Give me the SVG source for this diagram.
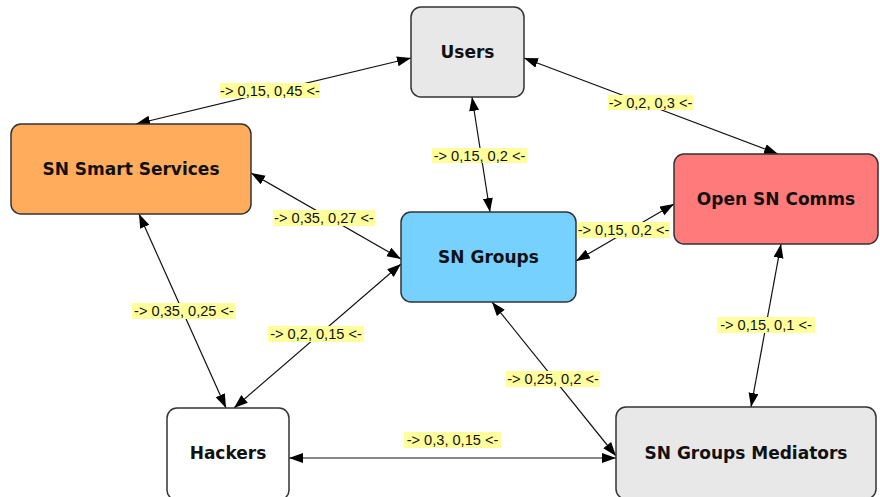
<svg xmlns="http://www.w3.org/2000/svg" width="880" height="497" viewBox="0 0 880 497">
<style>
.node rect{stroke:#333;stroke-width:1.5}
.node text{font-family:"DejaVu Sans",sans-serif;font-weight:bold;font-size:17px;fill:#111;text-anchor:middle}
.edge line{stroke:#111;stroke-width:1.2;marker-start:url(#ah);marker-end:url(#ah)}
.lbl rect{fill:#ffff9c}
.lbl text{font-family:"Liberation Sans",Arial,sans-serif;font-size:14.6px;fill:#111;text-anchor:middle}
</style>
<defs>
<marker id="ah" markerUnits="userSpaceOnUse" markerWidth="15" markerHeight="11" refX="14" refY="5" orient="auto-start-reverse">
<path d="M0,0 L14,5 L0,10 z" fill="#000"/>
</marker>
</defs>
<rect width="880" height="497" fill="#fff"/>
<g id="connectors">
<g class="edge">
<line x1="411" y1="58" x2="136" y2="124"/>
<line x1="524" y1="58" x2="778" y2="154"/>
<line x1="472" y1="97" x2="490" y2="212"/>
<line x1="251" y1="173" x2="401" y2="259"/>
<line x1="576" y1="261" x2="674" y2="204"/>
<line x1="139" y1="214" x2="226" y2="408"/>
<line x1="401" y1="264" x2="234" y2="408"/>
<line x1="492" y1="302" x2="616" y2="456"/>
<line x1="781" y1="244" x2="751" y2="407"/>
<line x1="289" y1="458" x2="616" y2="458"/>
</g>
<g class="lbl">
<rect x="220" y="83" width="100" height="15"/><text x="270" y="95.5">-&gt; 0,15, 0,45 &lt;-</text>
<rect x="608" y="95" width="85" height="15"/><text x="650.5" y="107.5">-&gt; 0,2, 0,3 &lt;-</text>
<rect x="432" y="148" width="95" height="15"/><text x="479.5" y="160.5">-&gt; 0,15, 0,2 &lt;-</text>
<rect x="273" y="210" width="102" height="16"/><text x="324" y="223">-&gt; 0,35, 0,27 &lt;-</text>
<rect x="577" y="222" width="93" height="16"/><text x="623.5" y="235">-&gt; 0,15, 0,2 &lt;-</text>
<rect x="132" y="303" width="104" height="16"/><text x="184" y="316">-&gt; 0,35, 0,25 &lt;-</text>
<rect x="268" y="326" width="96" height="16"/><text x="316" y="339">-&gt; 0,2, 0,15 &lt;-</text>
<rect x="506" y="371" width="94" height="16"/><text x="553" y="384">-&gt; 0,25, 0,2 &lt;-</text>
<rect x="717" y="317" width="98" height="16"/><text x="766" y="330">-&gt; 0,15, 0,1 &lt;-</text>
<rect x="404" y="432" width="97" height="16"/><text x="452.5" y="445">-&gt; 0,3, 0,15 &lt;-</text>
</g>
</g>
<g id="users" class="node"><rect x="411" y="7" width="113" height="90" rx="10" fill="#e8e8e8"/><text x="467.5" y="58">Users</text></g>
<g id="sn-smart-services" class="node"><rect x="11" y="124" width="240" height="90" rx="10" fill="#ffad5c"/><text x="131" y="175">SN Smart Services</text></g>
<g id="sn-groups" class="node"><rect x="401" y="212" width="175" height="90" rx="10" fill="#76d1ff"/><text x="488.5" y="263">SN Groups</text></g>
<g id="open-sn-comms" class="node"><rect x="674" y="154" width="204" height="90" rx="10" fill="#ff7b7b"/><text x="776" y="205">Open SN Comms</text></g>
<g id="hackers" class="node"><rect x="167" y="408" width="122" height="92" rx="10" fill="#fff"/><text x="228" y="459">Hackers</text></g>
<g id="sn-groups-mediators" class="node"><rect x="616" y="407" width="260" height="92" rx="10" fill="#e8e8e8"/><text x="746" y="459">SN Groups Mediators</text></g>
</svg>
